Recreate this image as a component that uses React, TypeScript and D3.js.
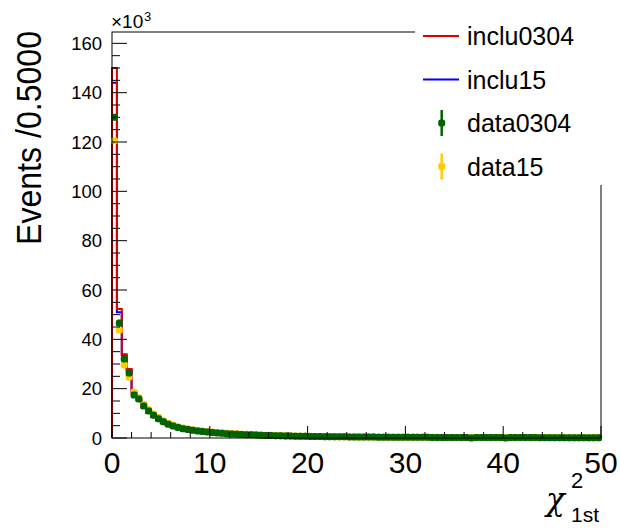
import React from "react";
import * as d3 from "d3";

// ---- data (thousands of events per 0.5 bin, 100 bins over 0..50) ----
const xRange = [0, 50];
const inclu0304 = [
  150, 52.3, 34, 28, 18.8, 15.4, 12.5, 10.2, 8.6, 7.2,
  6.1, 5.2, 4.5, 3.9, 3.5, 3.1, 2.8, 2.55, 2.35, 2.15,
  2.0, 1.85, 1.72, 1.6, 1.5, 1.4, 1.3, 1.22, 1.14, 1.07,
  1.0, 0.94, 0.88, 0.83, 0.78, 0.74, 0.7, 0.66, 0.62, 0.59,
  0.56, 0.53, 0.5, 0.48, 0.46, 0.44, 0.42, 0.4, 0.38, 0.37,
  0.35, 0.34, 0.33, 0.32, 0.31, 0.3, 0.29, 0.28, 0.27, 0.26,
  0.25, 0.25, 0.24, 0.23, 0.23, 0.22, 0.21, 0.21, 0.2, 0.2,
  0.19, 0.19, 0.18, 0.18, 0.18, 0.17, 0.17, 0.16, 0.16, 0.16,
  0.15, 0.15, 0.15, 0.14, 0.14, 0.14, 0.13, 0.13, 0.13, 0.13,
  0.12, 0.12, 0.12, 0.12, 0.11, 0.11, 0.11, 0.11, 0.1, 0.1,
];
const inclu15 = [
  144, 51, 33.5, 27.6, 18.6, 15.3, 12.4, 10.2, 8.6, 7.2,
  6.1, 5.2, 4.5, 3.9, 3.5, 3.1, 2.8, 2.55, 2.35, 2.15,
  2.0, 1.85, 1.72, 1.6, 1.5, 1.4, 1.3, 1.22, 1.14, 1.07,
  1.0, 0.94, 0.88, 0.83, 0.78, 0.74, 0.7, 0.66, 0.62, 0.59,
  0.56, 0.53, 0.5, 0.48, 0.46, 0.44, 0.42, 0.4, 0.38, 0.37,
  0.35, 0.34, 0.33, 0.32, 0.31, 0.3, 0.29, 0.28, 0.27, 0.26,
  0.25, 0.25, 0.24, 0.23, 0.23, 0.22, 0.21, 0.21, 0.2, 0.2,
  0.19, 0.19, 0.18, 0.18, 0.18, 0.17, 0.17, 0.16, 0.16, 0.16,
  0.15, 0.15, 0.15, 0.14, 0.14, 0.14, 0.13, 0.13, 0.13, 0.13,
  0.12, 0.12, 0.12, 0.12, 0.11, 0.11, 0.11, 0.11, 0.1, 0.1,
];
const data0304 = [
  130, 46.6, 32, 26.4, 17.4, 15.8, 13, 10.9, 9.2, 7.8,
  6.6, 5.6, 4.9, 4.3, 3.8, 3.4, 3.1, 2.8, 2.6, 2.4,
  2.2, 2.0, 1.9, 1.75, 1.65, 1.55, 1.45, 1.35, 1.27, 1.2,
  1.12, 1.05, 0.98, 0.92, 0.87, 0.82, 0.78, 0.74, 0.7, 0.66,
  0.63, 0.6, 0.57, 0.54, 0.52, 0.5, 0.48, 0.46, 0.44, 0.42,
  0.4, 0.39, 0.37, 0.36, 0.35, 0.34, 0.33, 0.32, 0.31, 0.3,
  0.29, 0.28, 0.27, 0.27, 0.26, 0.25, 0.25, 0.24, 0.23, 0.23,
  0.22, 0.22, 0.21, 0, 0.2, 0.2, 0.19, 0.19, 0.18, 0.18,
  0, 0.17, 0.17, 0.17, 0.16, 0.16, 0.16, 0.15, 0.15, 0.15,
  0.14, 0.14, 0.14, 0.14, 0.13, 0.13, 0.13, 0.12, 0.12, 0.12,
];
const data15 = [
  120.5, 43.8, 29.6, 24.7, 18.5, 16.3, 13.6, 11.5, 9.7, 8.3,
  7.0, 6.0, 5.2, 4.6, 4.1, 3.7, 3.3, 3.0, 2.8, 2.6,
  2.4, 2.2, 2.05, 1.9, 1.8, 1.68, 1.57, 1.47, 1.38, 1.3,
  1.22, 1.14, 1.07, 1.0, 0.95, 0.9, 0.85, 0.8, 0.76, 0.72,
  0.68, 0.65, 0.62, 0.59, 0.56, 0.54, 0.52, 0.5, 0.48, 0.46,
  0.44, 0.42, 0.4, 0.39, 0.38, 0.37, 0.36, 0.35, 0.34, 0.33,
  0.32, 0.31, 0.3, 0.29, 0.28, 0.28, 0.27, 0.26, 0.25, 0.25,
  0.24, 0.24, 0.23, 0.23, 0.22, 0.22, 0.21, 0.21, 0.2, 0.2,
  0.19, 0.19, 0.18, 0.18, 0.18, 0.17, 0.17, 0.17, 0.16, 0.16,
  0.16, 0.15, 0.15, 0.15, 0.15, 0.14, 0.14, 0, 0.14, 0.13,
];
const yTicks = [0, 20, 40, 60, 80, 100, 120, 140, 160];
const xTicks = [0, 10, 20, 30, 40, 50];
const legendItems = [
  { label: "inclu0304", color: "#e00000", kind: "line" },
  { label: "inclu15", color: "#0000ff", kind: "line" },
  { label: "data0304", color: "#006400", kind: "point" },
  { label: "data15", color: "#ffcc00", kind: "point" },
];

const W = 620, H = 532;
const L = 112, R = 601, T = 32, B = 438;
const FONT = "'Liberation Sans', Arial, Helvetica, sans-serif";

export default function App() {
  const x = d3.scaleLinear().domain(xRange).range([L, R]);
  const y = d3.scaleLinear().domain([0, 164.6]).range([B, T]);
  const nb = inclu0304.length;
  const bw = (xRange[1] - xRange[0]) / nb;

  const stepPath = (vals: number[]) => {
    const pts: [number, number][] = [[xRange[0], 0]];
    vals.forEach((v, i) => {
      pts.push([xRange[0] + i * bw, v]);
      pts.push([xRange[0] + (i + 1) * bw, v]);
    });
    pts.push([xRange[1], 0]);
    return d3.line<[number, number]>().x((d) => x(d[0])).y((d) => y(d[1]))(pts) || "";
  };

  const yMinor = d3.range(0, 165, 5);
  const xMinor = d3.range(0, 50.001, 2);

  const points = (vals: number[], color: string) =>
    vals.map((v, i) => (
      <rect key={i} x={x(xRange[0] + (i + 0.5) * bw) - 3.5} y={y(v) - 3.5} width={7} height={7} rx={2.5} fill={color} />
    ));

  return (
    <svg width={W} height={H} style={{ position: "absolute", left: 0, top: 0, background: "#fff" }} fontFamily={FONT}>
      <rect x={0} y={0} width={W} height={H} fill="#fff" />
      {/* histograms */}
      <path d={stepPath(inclu15)} fill="none" stroke="#0000ff" strokeWidth={2} />
      <path d={stepPath(inclu0304)} fill="none" stroke="#e00000" strokeWidth={2} />
      {points(data15, "#ffcc00")}
      {points(data0304, "#006400")}
      {/* frame */}
      <rect x={L} y={T} width={R - L} height={B - T} fill="none" stroke="#000" strokeWidth={1} />
      {/* y ticks */}
      {yMinor.map((v) => (
        <line key={"ym" + v} x1={L} x2={L + (v % 20 === 0 ? 15 : 8)} y1={y(v)} y2={y(v)} stroke="#000" strokeWidth={1} />
      ))}
      {yTicks.map((v) => (
        <text key={"yl" + v} x={102} y={y(v)} fontSize={18.5} textAnchor="end" dominantBaseline="central">{v}</text>
      ))}
      {/* x ticks */}
      {xMinor.map((v) => (
        <line key={"xm" + v} x1={x(v)} x2={x(v)} y1={B} y2={B - (Math.abs(v % 10) < 1e-6 ? 12 : 6)} stroke="#000" strokeWidth={1} />
      ))}
      {xTicks.map((v) => (
        <text key={"xl" + v} x={x(v)} y={473} fontSize={30} textAnchor="middle">{v}</text>
      ))}
      {/* exponent */}
      <text x={111} y={28} fontSize={19}>×10</text>
      <text x={144} y={21} fontSize={13}>3</text>
      {/* axis titles */}
      <text transform="translate(41,31) rotate(-90)" fontSize={35} textAnchor="end" textLength={214} lengthAdjust="spacingAndGlyphs">Events /0.5000</text>
      <text x={546} y={510} fontSize={31} fontFamily="'DejaVu Serif', serif" fontStyle="italic">χ</text>
      <text x={571} y={488} fontSize={22}>2</text>
      <text x={571} y={522} fontSize={21}>1st</text>
      {/* legend */}
      <rect x={415} y={24} width={205} height={161} fill="#fff" />
      {legendItems.map((it, i) => {
        const cy = 36 + i * 43.5;
        return (
          <g key={it.label}>
            {it.kind === "line" ? (
              <line x1={423} x2={459} y1={cy} y2={cy} stroke={it.color} strokeWidth={2} />
            ) : (
              <g>
                <line x1={441.7} x2={441.7} y1={cy - 13} y2={cy + 13} stroke={it.color} strokeWidth={2.5} />
                <rect x={438.2} y={cy - 3.5} width={7} height={7} rx={2.5} fill={it.color} />
              </g>
            )}
            <text x={467} y={cy + 9} fontSize={25}>{it.label}</text>
          </g>
        );
      })}
    </svg>
  );
}
